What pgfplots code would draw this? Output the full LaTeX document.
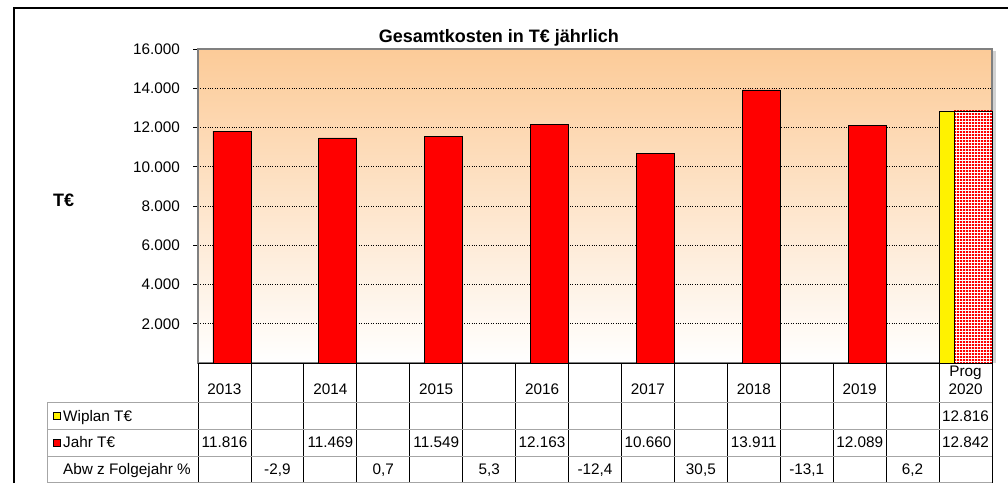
\documentclass[border=0pt]{standalone}
\usepackage{pgfplots}
\pgfplotsset{compat=1.18}
\usetikzlibrary{patterns}
\usepackage{fontspec}
\setmainfont{Liberation Sans}
\definecolor{bgtop}{RGB}{252,203,152}
\pgfdeclarepatternformonly{reddots}{\pgfpointorigin}{\pgfqpoint{3pt}{3pt}}{\pgfqpoint{3pt}{3pt}}{%
  \pgfpathrectangle{\pgfqpoint{0.25pt}{0.25pt}}{\pgfqpoint{2.4pt}{2.4pt}}\pgfusepath{fill}}
\newcommand\tbl{\fontsize{15.3pt}{18pt}\selectfont}
\def\cw{52.9333}
\newcommand\cell[3]{\node[font=\tbl, anchor=base, inner sep=0pt] at ({198+(#1+0.5)*\cw},#2) {#3};}
\begin{document}
\begin{tikzpicture}[x=1pt,y=1pt]
\useasboundingbox (0,0) rectangle (1008,483);
\fill[gray!35] (992.5,120) rectangle (995.5,432);
\begin{axis}[
  at={(198pt,120pt)}, anchor=south west,
  scale only axis, width=794pt, height=314pt,
  xmin=0, xmax=15, ymin=0, ymax=16000,
  xtick={0.5,1.5,...,14.5},
  xticklabels={2013,,2014,,2015,,2016,,2017,,2018,,2019,,{Prog\\2020}},
  xtick style={draw=none},
  xticklabel style={font=\tbl, align=center, anchor=base, yshift=-26pt, inner sep=0pt},
  ytick={2000,4000,...,16000},
  scaled y ticks=false,
  ymajorgrids, grid style={black, dotted, line width=0.6pt},
  tick align=outside, ytick pos=left, major tick length=5pt,
  ytick style={black, line width=0.8pt},
  axis line style={draw=gray, line width=1.5pt},
  axis background/.style={top color=bgtop, bottom color=white},
  yticklabel style={font=\tbl, anchor=east, inner sep=0pt, xshift=-13pt,
    /pgf/number format/fixed, /pgf/number format/precision=0,
    /pgf/number format/1000 sep={.}, /pgf/number format/assume math mode=true},
  clip=false,
]
\addplot[ybar, bar shift=0pt, bar width=0.718, fill=red, draw=black, line width=0.8pt]
  coordinates {(0.642,11816) (2.642,11469) (4.642,11549) (6.642,12163) (8.642,10660) (10.642,13911) (12.642,12089)};
\addplot[ybar, bar shift=0pt, bar width=0.29, fill=yellow, draw=black, line width=0.8pt]
  coordinates {(14.145,12816)};
\addplot[ybar, bar shift=0pt, bar width=0.718, fill=white, draw=none]
  coordinates {(14.642,12842)};
\addplot[ybar, bar shift=0pt, bar width=0.718, pattern=reddots, pattern color=red, draw=black, line width=0.6pt]
  coordinates {(14.642,12842)};
\end{axis}
% title and axis label
\node[font=\bfseries\fontsize{18pt}{20pt}\selectfont, anchor=base, inner sep=0pt] at (498.9,440.3) {Gesamtkosten in T€ jährlich};
\node[font=\bfseries\fontsize{18pt}{20pt}\selectfont, anchor=base west, inner sep=0pt] at (53,277) {T€};
% data table grid
\draw[black, line width=0.8pt] (198,120) -- (992,120);
\foreach \k in {0,...,15} \draw[black, line width=0.8pt] ({198+\k*\cw},120) -- ({198+\k*\cw},0);
\foreach \yy in {81,54,27,1} \draw[gray!70, line width=0.8pt] (47,\yy) -- (992,\yy);
\draw[gray!70, line width=0.8pt] (47,81) -- (47,0);
% row headers
\filldraw[fill=yellow, draw=black, line width=0.5pt] (53.5,64) rectangle (60,70.5);
\node[font=\tbl, anchor=base west, inner sep=0pt] at (63,62) {Wiplan T€};
\filldraw[fill=red, draw=black, line width=0.5pt] (53.5,37) rectangle (60,43.5);
\node[font=\tbl, anchor=base west, inner sep=0pt] at (63,35.5) {Jahr T€};
\node[font=\tbl, anchor=base west, inner sep=0pt] at (63,9) {Abw z Folgejahr \%};
% row values
\cell{14}{62}{12.816}
\cell{0}{35.5}{11.816}
\cell{2}{35.5}{11.469}
\cell{4}{35.5}{11.549}
\cell{6}{35.5}{12.163}
\cell{8}{35.5}{10.660}
\cell{10}{35.5}{13.911}
\cell{12}{35.5}{12.089}
\cell{14}{35.5}{12.842}
\cell{1}{9}{-2,9}
\cell{3}{9}{0,7}
\cell{5}{9}{5,3}
\cell{7}{9}{-12,4}
\cell{9}{9}{30,5}
\cell{11}{9}{-13,1}
\cell{13}{9}{6,2}
% outer frame
\draw[black, line width=2.2pt] (14.3,0) -- (14.3,475) -- (1008,475);
\end{tikzpicture}
\end{document}
